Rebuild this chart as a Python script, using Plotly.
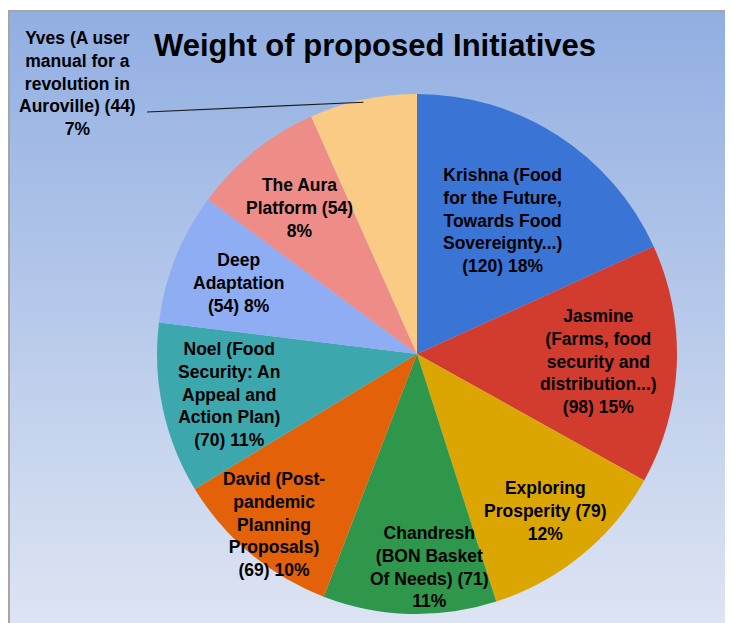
import math
import plotly.graph_objects as go

names = ['Krishna (Food<br>for the Future,<br>Towards Food<br>Sovereignty...)',
         'Jasmine<br>(Farms, food<br>security and<br>distribution...)',
         'Exploring<br>Prosperity (79)',
         'Chandresh<br>(BON Basket<br>Of Needs) (71)',
         'David (Post-<br>pandemic<br>Planning<br>Proposals)',
         'Noel (Food<br>Security: An<br>Appeal and<br>Action Plan)',
         'Deep<br>Adaptation',
         'The Aura<br>Platform (54)',
         'Yves (A user<br>manual for a<br>revolution in<br>Auroville) (44)']
values = [120, 98, 79, 71, 69, 70, 54, 54, 44]
colors = ['#3a75d6', '#d23c2f', '#dca602', '#2e974b', '#e26109',
          '#3ca8ae', '#8fadf3', '#ee8d88', '#f9cb84']
# how the value / percent ends each label
tails = ['<br>({v}) {p}%', '<br>({v}) {p}%', '<br>{p}%', '<br>{p}%',
         '<br>({v}) {p}%', '<br>({v}) {p}%', '<br>({v}) {p}%', '<br>{p}%', '<br>{p}%']
# label placement: fraction of the radius, and a small turn in degrees
label_r = [0.61, 0.70, 0.78, 0.82, 0.855, 0.74, 0.74, 0.72, 0]
label_turn = [0, 0, 0, -5, 0, 0, 0, 0, 0]

# the page shows the figure 8px in from its corner
OFF = 8
W, H = 733, 623
cx, cy, R = 417 - OFF, 354 - OFF, 260
total = sum(values)

def px(x):
    return x / W

def py(y):
    return 1 - y / H

fig = go.Figure()
fig.add_trace(go.Pie(
    labels=[n.replace('<br>', ' ') for n in names],
    values=values,
    sort=False,
    direction='clockwise',
    rotation=0,
    textinfo='none',
    hoverinfo='label+value+percent',
    marker=dict(colors=colors, line=dict(width=0)),
    domain=dict(x=[px(cx - R), px(cx + R)], y=[py(cy + R), py(cy - R)]),
    showlegend=False,
))

# gradient background in bands
shapes = []
top, bottom = 12 - OFF, 623 - OFF
c0, c1 = (0x92, 0xaf, 0xe2), (0xdd, 0xe4, 0xf3)
n = 120
for i in range(n):
    t = i / (n - 1)
    col = 'rgb(%d,%d,%d)' % tuple(round(a + (b - a) * t) for a, b in zip(c0, c1))
    y0 = top + (bottom - top) * i / n
    y1 = top + (bottom - top) * (i + 1) / n + 1
    shapes.append(dict(type='rect', xref='paper', yref='paper', layer='below',
                       x0=px(9 - OFF), x1=1, y0=max(py(y1), 0), y1=py(y0),
                       fillcolor=col, line=dict(width=0)))
shapes.append(dict(type='line', xref='paper', yref='paper', layer='below',
                   x0=px(8 - OFF), x1=1, y0=py(11 - OFF), y1=py(11 - OFF),
                   line=dict(color='#a6a6a6', width=2)))
shapes.append(dict(type='line', xref='paper', yref='paper', layer='below',
                   x0=px(9 - OFF), x1=px(9 - OFF), y0=0, y1=py(10 - OFF),
                   line=dict(color='#a6a6a6', width=2)))

annotations = []
cum = 0
for i, v in enumerate(values):
    mid = (cum + v / 2) / total * 2 * math.pi
    cum += v
    pct = round(100 * v / total)
    text = names[i] + tails[i].format(v=v, p=pct)
    if i == len(values) - 1:
        # outside label with leader line
        ex = cx + 0.99 * R * math.sin(mid)
        ey = cy - 0.99 * R * math.cos(mid)
        shapes.append(dict(type='line', xref='paper', yref='paper',
                           x0=px(147 - OFF), y0=py(112 - OFF), x1=px(ex), y1=py(ey),
                           line=dict(color='#1a1a1a', width=1.2)))
        annotations.append(dict(x=px(77 - OFF), y=py(84 - OFF), xref='paper', yref='paper',
                                xanchor='center', yanchor='middle',
                                text=text, showarrow=False, align='center'))
        continue
    a = mid + math.radians(label_turn[i])
    lx = cx + label_r[i] * R * math.sin(a)
    ly = cy - label_r[i] * R * math.cos(a)
    annotations.append(dict(x=px(lx), y=py(ly), xref='paper', yref='paper',
                            xanchor='center', yanchor='middle',
                            text=text, showarrow=False, align='center'))

annotations.append(dict(x=px(375 - OFF), y=py(45 - OFF), xref='paper', yref='paper',
                        xanchor='center', yanchor='middle',
                        text='<b>Weight of proposed Initiatives</b>', showarrow=False,
                        font=dict(size=31, color='black')))

fig.update_layout(
    width=W, height=H,
    margin=dict(l=0, r=0, t=0, b=0),
    paper_bgcolor='white',
    font=dict(family='Liberation Sans, Arial', size=17.5, color='black', weight='bold'),
    shapes=shapes,
    annotations=annotations,
)
fig.write_html("out.html")
